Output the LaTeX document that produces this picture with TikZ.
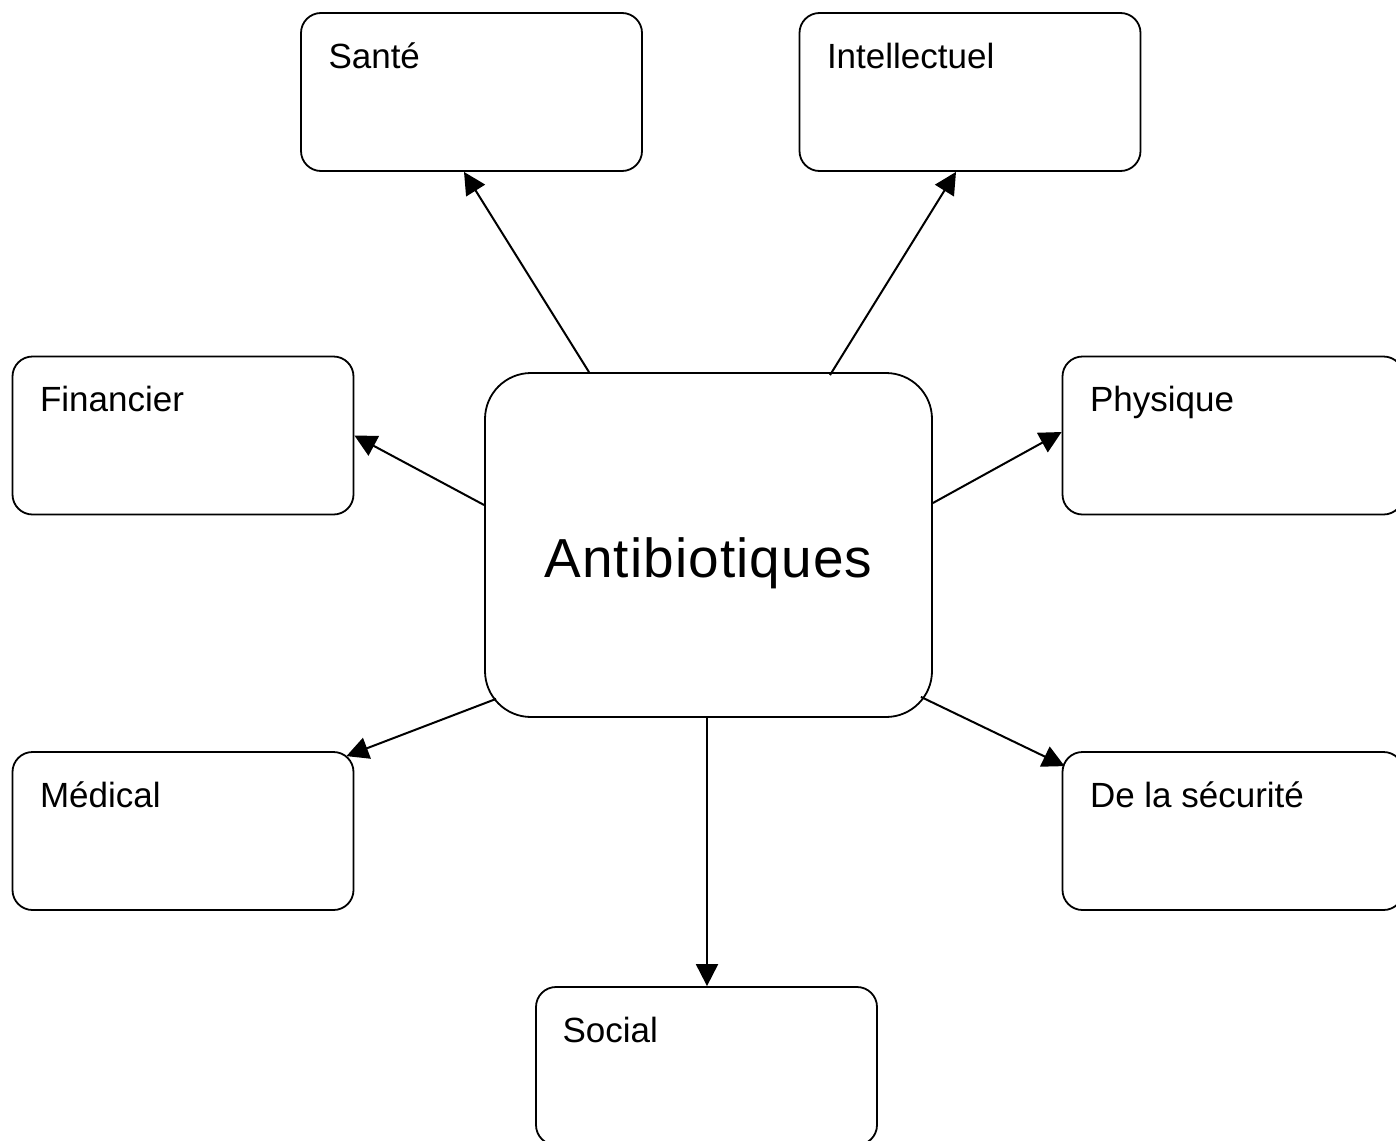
\documentclass[tikz,border=0pt]{standalone}
\usepackage{fontspec}
\setmainfont{Liberation Sans}
\newfontfamily\hubfont[LetterSpace=2]{Liberation Sans}
\usetikzlibrary{arrows.meta,calc}
\begin{document}
\begin{tikzpicture}[x=0.5pt,y=-0.5pt,
  box/.style={draw=black, line width=0.9pt, rounded corners=10pt, fill=white,
    minimum width=170.5pt, minimum height=79pt, inner sep=0pt},
  hub/.style={draw=black, line width=0.9pt, rounded corners=23pt, fill=white,
    minimum width=223.5pt, minimum height=172pt, inner sep=0pt},
  lbl/.style={anchor=base west, inner sep=0pt, font=\fontsize{17.5pt}{21pt}\selectfont},
  hublbl/.style={anchor=base, inner sep=0pt, font=\hubfont\fontsize{27.5pt}{33pt}\selectfont},
  link/.style={line width=1pt, -{Triangle[length=11pt,width=11pt]}}]
  \useasboundingbox (0,0) rectangle (1396,1140);

  % central concept
  \node[hub] (main) at (708.5,545) {};
  \node[hublbl] (mainT) at (708.5,577) {Antibiotiques};

  % surrounding categories
  \node[box] (sante)  at (471.5,92)   {};
  \node[box] (intel)  at (970,92)     {};
  \node[box] (fin)    at (183,435.5)  {};
  \node[box] (phys)   at (1233,435.5) {};
  \node[box] (med)    at (183,831)    {};
  \node[box] (secu)   at (1233,831)   {};
  \node[box] (social) at (706.5,1066) {};

  \node[lbl] (santeT)  at ($(sante.north west)+(28,56)$)  {Santé};
  \node[lbl] (intelT)  at ($(intel.north west)+(28,56)$)  {Intellectuel};
  \node[lbl] (finT)    at ($(fin.north west)+(28,56)$)    {Financier};
  \node[lbl] (physT)   at ($(phys.north west)+(28,56)$)   {Physique};
  \node[lbl] (medT)    at ($(med.north west)+(28,56)$)    {Médical};
  \node[lbl] (secuT)   at ($(secu.north west)+(28,56)$)   {De la sécurité};
  \node[lbl] (socialT) at ($(social.north west)+(27,56)$) {Social};

  % connectors from the hub
  \draw[link] ($(main.north)+(-119.5,0)$) -- ($(sante.south)+(-7.5,0)$);
  \draw[link] ($(main.north)+(121.5,3)$) -- ($(intel.south)+(-14,0)$);
  \draw[link] ($(main.west)+(0,-40)$) -- (fin.east);
  \draw[link] ($(main.east)+(0,-42)$) -- ($(phys.west)+(0,-3.5)$);
  \draw[link] ($(main.south west)+(12,-19)$) -- ($(med.north east)+(-8,5)$);
  \draw[link] ($(main.south east)+(-12,-21)$) -- ($(secu.north west)+(3,15)$);
  \draw[link] ($(main.south)+(-1.5,0)$) -- ($(social.north)+(0.5,0)$);
\end{tikzpicture}
\end{document}
